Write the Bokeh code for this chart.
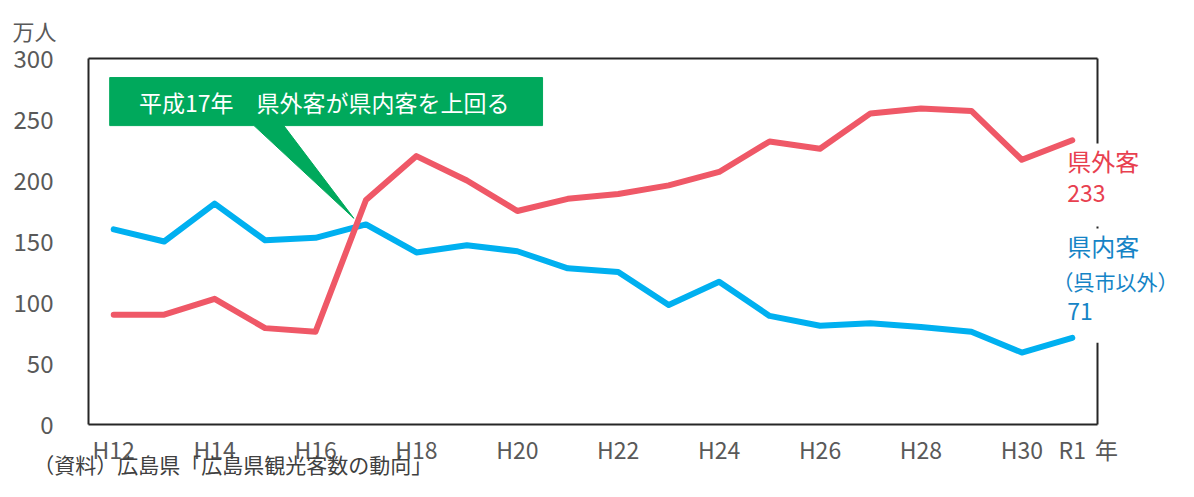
from bokeh.plotting import figure
from bokeh.models import Range1d, FixedTicker, Title, LinearAxis
from bokeh.core.properties import value
from bokeh.embed import file_html
from bokeh.resources import INLINE

years = ["H12", "H13", "H14", "H15", "H16", "H17", "H18", "H19", "H20", "H21",
         "H22", "H23", "H24", "H25", "H26", "H27", "H28", "H29", "H30", "R1"]
outside_pref = [90, 90, 103, 79, 76, 184, 220, 200, 175, 185,
                189, 196, 207, 232, 226, 255, 259, 257, 217, 233]
inside_pref = [160, 150, 181, 151, 153, 164, 141, 147, 142, 128,
               125, 98, 117, 89, 81, 83, 80, 76, 59, 71]
y_ticks = [0, 50, 100, 150, 200, 250, 300]
x_tick_idx = [0, 2, 4, 6, 8, 10, 12, 14, 16, 18, 19]
year_unit_pos = 19.68
source_text = "（資料）広島県「広島県観光客数の動向」"
source_pos = 2.36

JP = "Noto Sans CJK JP"
GRAY = "#595959"
RED_LINE = "#EF5867"
BLUE_LINE = "#00B0F0"
RED_TXT = "#E8404F"
BLUE_TXT = "#1584C6"
GREEN = "#00A95C"
FRAME = "#262626"

W, H = 1178, 481
PX_X = 50.45   # px per year
PX_Y = 1.22    # px per 万人

xs = list(range(len(years)))
x0 = -0.5 - 2 / PX_X
x1 = 19.5 + (W - 1097) / PX_X
y0 = -2 / PX_Y
y1 = 300 + 2 / PX_Y

p = figure(width=W, height=H, output_backend="svg", toolbar_location=None,
           title=None, x_range=Range1d(x0, x1), y_range=Range1d(y0, y1))
p.min_border_left = 86
p.min_border_right = 0
p.min_border_top = 56
p.min_border_bottom = H - 426
p.background_fill_color = "white"
p.border_fill_color = "white"
p.outline_line_color = None
p.xgrid.grid_line_color = None
p.ygrid.grid_line_color = None


def plain_axis(ax, size, standoff, color=GRAY):
    ax.axis_line_color = None
    ax.major_tick_line_color = None
    ax.minor_tick_line_color = None
    ax.major_tick_out = 0
    ax.major_tick_in = 0
    ax.minor_tick_out = 0
    ax.minor_tick_in = 0
    ax.major_label_standoff = standoff
    ax.major_label_text_font = JP
    ax.major_label_text_font_size = size
    ax.major_label_text_color = color


# axes
p.yaxis.ticker = FixedTicker(ticks=y_ticks)
plain_axis(p.yaxis[0], "24px", 33)

p.xaxis.ticker = FixedTicker(ticks=x_tick_idx + [year_unit_pos])
overrides = {i: years[i] for i in x_tick_idx}
overrides[year_unit_pos] = "年"
p.xaxis.major_label_overrides = overrides
plain_axis(p.xaxis[0], "23px", 5)

# source note as a second bottom axis line
src_axis = LinearAxis(ticker=FixedTicker(ticks=[source_pos]),
                      major_label_overrides={source_pos: source_text})
plain_axis(src_axis, "21px", -20, "#404040")
p.add_layout(src_axis, "below")

# frame (right edge partly hidden behind the end labels)
p.segment(x0=[-0.5, -0.5, -0.5, 19.5, 19.5, 19.5],
          y0=[0, 300, 0, 300, 162.3, 67.0],
          x1=[19.5, 19.5, -0.5, 19.5, 19.5, 19.5],
          y1=[0, 300, 300, 230.3, 160.6, 0],
          line_color=FRAME, line_width=2)

# callout (annotation box with tail)
callout_x = [-0.08, 8.5, 8.5, 3.37, 4.76, 2.78, -0.08]
callout_y = [284.4, 284.4, 245, 245, 169, 245, 245]
p.patch(callout_x, callout_y, fill_color=GREEN, line_color=GREEN, line_width=1)
p.text(x=[0.5], y=[264.5], text=["平成17年　県外客が県内客を上回る"],
       text_font=value(JP), text_font_size="23px", text_color="white",
       text_baseline="middle", text_align="left")

# series
p.line(xs, inside_pref, line_color=BLUE_LINE, line_width=6,
       line_cap="round", line_join="round")
p.line(xs, outside_pref, line_color=RED_LINE, line_width=6,
       line_cap="round", line_join="round")

# end labels
lx = 18.9
p.text(x=[lx, lx], y=[216.5, 146.7], text=["県外客", "県内客"],
       text_color=[RED_TXT, BLUE_TXT], text_font=value(JP), text_font_size="24px",
       text_baseline="middle", text_align="left")
p.text(x=[18.61], y=[117.5], text=["（呉市以外）"],
       text_color=BLUE_TXT, text_font=value(JP), text_font_size="21px",
       text_baseline="middle", text_align="left")
p.text(x=[lx, lx], y=[189.0, 92.5],
       text=[str(outside_pref[-1]), str(inside_pref[-1])],
       text_color=[RED_TXT, BLUE_TXT], text_font=value(JP), text_font_size="23px",
       text_baseline="middle", text_align="left")

# unit label above
p.add_layout(Title(text="万人", align="left", offset=-74, standoff=18,
                   vertical_align="top",
                   text_font=JP, text_font_size="22px", text_color=GRAY,
                   text_font_style="normal"), "above")

open("out.html", "w").write(file_html(p, INLINE))
